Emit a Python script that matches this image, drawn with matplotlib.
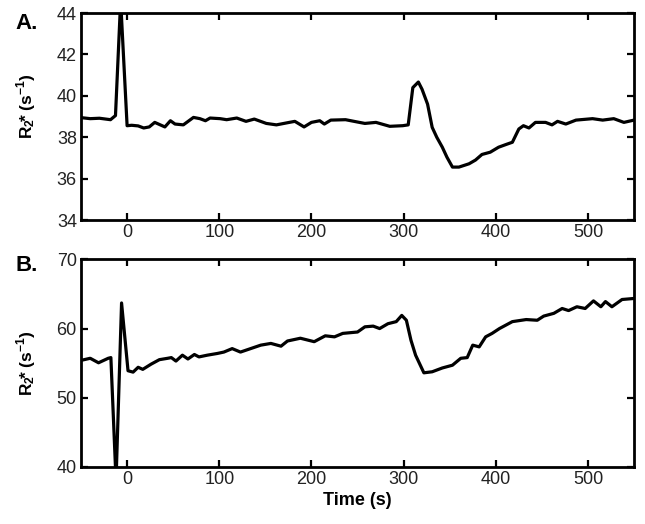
import matplotlib
matplotlib.use("Agg")
import matplotlib.pyplot as plt

plt.rcParams['font.family'] = ['Liberation Sans', 'DejaVu Sans']
plt.rcParams['mathtext.fontset'] = 'custom'
plt.rcParams['mathtext.rm'] = 'Liberation Sans'
plt.rcParams['mathtext.bf'] = 'Liberation Sans:bold'

# Panel A data
time_a = [-50, -40, -30, -18, -12.6, -7, 0, 5, 12, 18, 24, 30, 41, 47, 52, 61, 72, 79, 85, 90,
          101, 108, 119, 129, 138, 151, 162, 176, 182, 192, 200, 209, 214, 221, 237, 252, 258,
          270, 285, 299, 305, 310, 316, 320, 326, 331, 336, 342, 347, 353, 360, 371, 378, 385,
          394, 403, 411, 418, 425, 430, 436, 443, 454, 461, 467, 476, 487, 505, 516, 528, 539, 550]
r2_a = [38.95, 38.9, 38.92, 38.85, 39.05, 44.6, 38.56, 38.58, 38.55, 38.45, 38.5, 38.72, 38.5, 38.8,
        38.64, 38.6, 38.96, 38.9, 38.8, 38.93, 38.9, 38.85, 38.93, 38.77, 38.88, 38.67, 38.6,
        38.72, 38.77, 38.5, 38.72, 38.8, 38.64, 38.83, 38.85, 38.72, 38.67, 38.72, 38.53, 38.56,
        38.6, 40.4, 40.67, 40.32, 39.6, 38.48, 38.0, 37.52, 37.04, 36.56, 36.56, 36.72, 36.9,
        37.17, 37.28, 37.52, 37.65, 37.76, 38.4, 38.56, 38.45, 38.72, 38.72, 38.6, 38.77, 38.64,
        38.83, 38.9, 38.83, 38.9, 38.72, 38.83]

# Panel B data
time_b = [-50, -40, -31, -20.5, -17.6, -12, -6, 1, 6.5, 12, 17, 26, 35, 44, 48, 53, 60, 66, 73,
          78, 87, 98, 105, 114, 123, 134, 145, 156, 167, 174, 188, 203, 215, 225, 234, 250, 258,
          267, 274, 283, 292, 298, 303, 308, 313, 322, 331, 342, 353, 362, 369, 375, 382, 389,
          396, 404, 418, 433, 445, 452, 463, 472, 479, 488, 497, 506, 514, 519, 526, 537, 550]
r2_b = [55.4, 55.7, 55.05, 55.7, 55.8, 38.0, 63.7, 53.9, 53.7, 54.4, 54.1, 54.85, 55.5, 55.7,
        55.8, 55.3, 56.15, 55.6, 56.25, 55.9, 56.15, 56.4, 56.6, 57.1, 56.6, 57.1, 57.6, 57.85,
        57.45, 58.2, 58.6, 58.1, 58.95, 58.8, 59.3, 59.5, 60.25, 60.35, 60.0, 60.7, 61.0, 61.9,
        61.2, 58.3, 56.15, 53.6, 53.75, 54.3, 54.7, 55.7, 55.8, 57.6, 57.35, 58.8, 59.3, 60.0,
        61.0, 61.3, 61.2, 61.8, 62.2, 62.9, 62.6, 63.15, 62.9, 64.0, 63.15, 63.9, 63.15, 64.2,
        64.35]

xticks = [0, 100, 200, 300, 400, 500]
yticks_a = [34, 36, 38, 40, 42, 44]
yticks_b = [40, 50, 60, 70]

fig = plt.figure(figsize=(6.45, 5.24), dpi=100)
ax1 = fig.add_axes([0.1256, 0.580, 0.8574, 0.395])
ax2 = fig.add_axes([0.1256, 0.109, 0.8574, 0.396])

ylab = r'$\mathbf{R_2}\!$* (s$^{\mathbf{-1}}$)'

panels = [(ax1, time_a, r2_a, yticks_a, (34, 44), 'A.', 0.95, 0.55),
          (ax2, time_b, r2_b, yticks_b, (40, 70), 'B.', 0.972, 0.5)]

for ax, t, r, yt, lim, letter, ly, laby in panels:
    ax.plot(t, r, color='black', lw=2.3, solid_joinstyle='round')
    ax.set_xlim(-50, 550)
    ax.set_ylim(*lim)
    ax.set_xticks(xticks)
    ax.set_yticks(yt)
    ax.tick_params(direction='in', length=5, width=1.6, top=True, right=True,
                   labelsize=13, labelcolor='#222222', pad=3)
    for s in ax.spines.values():
        s.set_linewidth(2.0)
    lab = ax.set_ylabel(ylab, fontsize=12.5, fontweight='bold')
    ax.yaxis.set_label_coords(-0.099, laby)
    lab.set_verticalalignment('center')
    ax.text(-0.0976, ly, letter, transform=ax.transAxes, fontsize=16,
            fontweight='bold', ha='center', va='center')

ax2.set_xlabel('Time (s)', fontsize=13, fontweight='bold', labelpad=3)

fig.savefig('out.png', dpi=100)
